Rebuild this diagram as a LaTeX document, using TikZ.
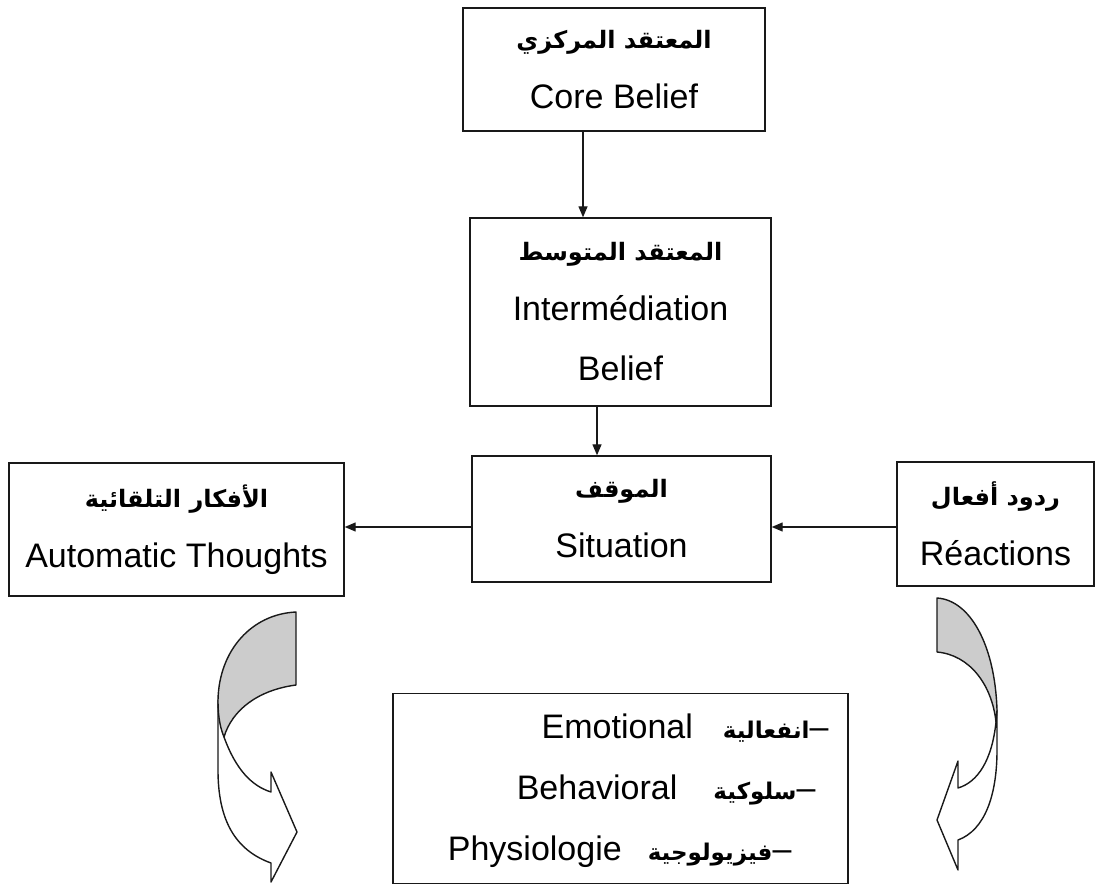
\documentclass[tikz,border=0pt]{standalone}
\usepackage{fontspec}
\setmainfont{Liberation Sans}
\newfontfamily\arabicfont[Script=Arabic]{DejaVu Sans}
\TeXXeTstate=1
\usetikzlibrary{arrows.meta,positioning}
\definecolor{shadegray}{RGB}{204,204,204}
\definecolor{framegray}{RGB}{25,25,25}
\newcommand{\arabictext}[2][24]{{\arabicfont\bfseries\fontsize{#1}{58}\selectfont\beginR #2\endR}}

\begin{document}
\begin{tikzpicture}[x=1pt, y=-1pt,
    every node/.style={font=\fontsize{34}{60}\selectfont},
    box/.style={draw=framegray, line width=1.4pt, align=center, inner sep=0pt},
    link/.style={-{Triangle[length=11pt,width=9pt]}, line width=1.3pt, draw=framegray},
    band/.style={draw=framegray, line width=1.4pt, line join=round}]
  \useasboundingbox (0,0) rectangle (1115,886);

  % the belief chain
  \node[box, minimum width=302pt, minimum height=123pt] (core) at (614,69.5) {\arabictext{المعتقد المركزي}\\Core Belief};
  \node[box, minimum width=301pt, minimum height=188pt] (inter) at (620.5,312) {\arabictext{المعتقد المتوسط}\\Intermédiation\\Belief};
  \node[box, minimum width=299pt, minimum height=126pt] (sit) at (621.5,519) {\arabictext{الموقف}\\Situation};
  \node[box, minimum width=335pt, minimum height=133pt] (auto) at (176.5,529.5) {\arabictext{الأفكار التلقائية}\\Automatic Thoughts};
  \node[box, minimum width=197pt, minimum height=124pt] (react) at (995.5,524) {\arabictext{ردود أفعال}\\Réactions};

  \draw[link] ([xshift=-31pt]core.south) -- ([xshift=-31pt]core.south |- inter.north);
  \draw[link] ([xshift=-23.5pt]inter.south) -- ([xshift=-23.5pt]inter.south |- sit.north);
  \draw[link] ([yshift=-8pt]sit.west) -- ([yshift=-8pt]sit.west -| auto.east);
  \draw[link] ([yshift=-3pt]react.west) -- ([yshift=-3pt]react.west -| sit.east);

  % responses
  \node[box, minimum width=455pt, minimum height=190pt] (resp) at (620.5,788.5) {};
  \node[anchor=east] (emo) at (832,728) {Emotional\hspace{30pt}\arabictext[23]{انفعالية}–};
  \node[anchor=east] (behav) at (819,790) {Behavioral\hspace{36pt}\arabictext[23]{سلوكية}–};
  \node[anchor=east] (physio) at (795,852) {Physiologie\hspace{26pt}\arabictext[23]{فيزيولوجية}–};

  % curved arrows
  \draw[band, fill=white] (224,737) .. controls (236,770) and (252,786) .. (271,792) -- (271,772) -- (297,832) -- (271,882) -- (271,863) .. controls (235,850) and (218,820) .. (218,770) -- (218,700) -- cycle;
  \draw[band, fill=shadegray] (296,612) -- (296,685) .. controls (258,690) and (232,710) .. (224,737) .. controls (219,725) and (218,712) .. (218,700) .. controls (219,650) and (252,614) .. (296,612) -- cycle;
  \draw[band, fill=white] (996,722) .. controls (992,760) and (978,782) .. (958,788) -- (958,761) -- (937,820) -- (958,870) -- (958,840) .. controls (985,830) and (997,795) .. (997,750) -- (997,710) -- cycle;
  \draw[band, fill=shadegray] (937,598) -- (937,652) .. controls (970,655) and (992,685) .. (996,722) -- (997,710) .. controls (995,645) and (970,600) .. (937,598) -- cycle;
\end{tikzpicture}
\end{document}
